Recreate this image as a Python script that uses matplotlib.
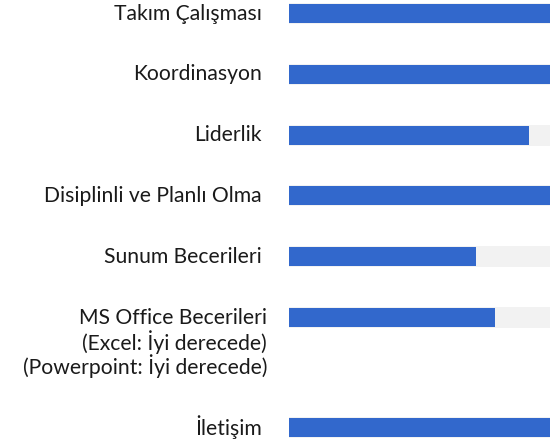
import matplotlib
matplotlib.use("Agg")
import matplotlib.pyplot as plt
from matplotlib.transforms import offset_copy

skills = [
    "Takım Çalışması",
    "Koordinasyon",
    "Liderlik",
    "Disiplinli ve Planlı Olma",
    "Sunum Becerileri",
    "MS Office Becerileri\n(Excel: İyi derecede)\n(Powerpoint: İyi derecede)",
    "İletişim",
]
levels = [100, 100, 92, 100, 71.5, 79, 100]
track_max = 100

BLUE = "#3268CC"
GREY = "#F2F2F2"

W, H, DPI = 550, 445, 100
fig = plt.figure(figsize=(W / DPI, H / DPI), dpi=DPI)
ax = fig.add_axes([289 / W, 0, 1 - 289 / W, 1])

# vertical layout: rows spaced by a fixed gap plus extra room for multi-line labels
row_gap = 60.8
line_h = 24.5
centers = []
y = 13.5
for i, lab in enumerate(skills):
    if i > 0:
        prev_lines = skills[i - 1].count("\n")
        y += row_gap + prev_lines * line_h
    centers.append(y)

ax.barh(centers, [track_max] * len(skills), height=21, color=GREY, left=0)
ax.barh(centers, levels, height=19, color=BLUE, left=0)

ax.set_xlim(0, track_max)
ax.set_ylim(H, 0)
ax.axis("off")

for c, lab in zip(centers, skills):
    nl = lab.count("\n")
    # multi-line labels sit slightly closer to their bars in the reference
    trans = offset_copy(ax.transData, fig=fig, x=-22 if nl else -27, y=2,
                        units="dots")
    for k, line in enumerate(lab.split("\n")):
        ax.text(0, c + k * line_h, line, transform=trans, ha="right",
                va="center_baseline", fontsize=15.2,
                family=["Lato", "DejaVu Sans"], color="#1a1a1a", clip_on=False)

fig.savefig("out.png", dpi=DPI)
